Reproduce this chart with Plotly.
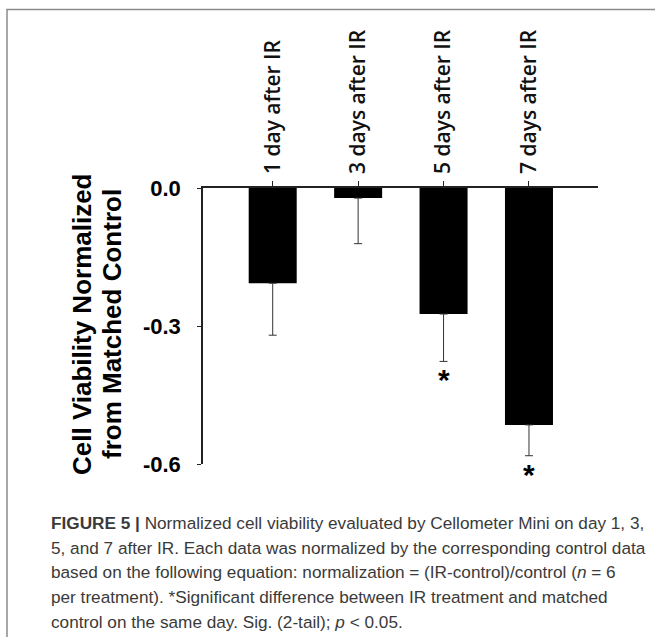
import plotly.graph_objects as go

categories = ["1 day after IR", "3 days after IR", "5 days after IR", "7 days after IR"]
values = [-0.207, -0.022, -0.274, -0.515]
errors = [0.113, 0.099, 0.103, 0.067]
significant = [False, False, True, True]
ytick_vals = [0.0, -0.3, -0.6]
ytick_text = ["0.0", "-0.3", "-0.6"]
ytitle_lines = ["Cell Viability Normalized", "from Matched Control"]
caption_lines = [
    "<b>FIGURE 5 |</b> Normalized cell viability evaluated by Cellometer Mini on day 1, 3,",
    "5, and 7 after IR. Each data was normalized by the corresponding control data",
    "based on the following equation: normalization = (IR-control)/control (<i>n</i> = 6",
    "per treatment). *Significant difference between IR treatment and matched",
    "control on the same day. Sig. (2-tail); <i>p</i> < 0.05.",
]

W, H = 655, 637
ML, MR, MT, MB = 203, 57, 188, 173
PW, PH = W - ML - MR, H - MT - MB


def px_x(px):
    return (px - ML) / PW


def px_y(py):
    return (H - MB - py) / PH


fig = go.Figure()
fig.add_trace(go.Bar(
    x=list(range(len(categories))),
    y=values,
    width=0.562,
    marker=dict(color="#000000", line=dict(width=0)),
    error_y=dict(type="data", symmetric=False, array=[0] * len(errors),
                 arrayminus=errors, color="#333333", thickness=1, width=4),
    showlegend=False,
    hoverinfo="skip",
))

annotations = []
for i, (v, e, s) in enumerate(zip(values, errors, significant)):
    if s:
        annotations.append(dict(
            x=i, y=v - e, xref="x", yref="y", text="<b>*</b>", showarrow=False,
            yanchor="top", yshift=0,
            font=dict(family="Liberation Sans, Arial, sans-serif", size=30, color="#000"),
        ))

for cx, line in zip([82, 112], ytitle_lines):
    annotations.append(dict(
        x=px_x(cx), y=px_y(324), xref="paper", yref="paper", text="<b>" + line + "</b>",
        showarrow=False, textangle=-90, xanchor="center", yanchor="middle",
        font=dict(family="Liberation Sans, Arial, sans-serif", size=26, color="#000"),
    ))

for k, line in enumerate(caption_lines):
    annotations.append(dict(
        x=px_x(49), y=px_y(523 + k * 24.7), xref="paper", yref="paper", text=line,
        showarrow=False, xanchor="left", yanchor="middle", align="left",
        font=dict(family="Liberation Sans, Arial, sans-serif", size=17.2, color="#3a3a3a"),
    ))

fig.update_layout(
    width=W, height=H,
    margin=dict(l=ML, r=MR, t=MT, b=MB, pad=0),
    plot_bgcolor="white", paper_bgcolor="white",
    annotations=annotations,
    shapes=[dict(type="rect", xref="paper", yref="paper",
                 x0=px_x(7), y0=px_y(700), x1=px_x(720), y1=px_y(9.5),
                 line=dict(color="#8a8a8a", width=1.5), layer="below")],
    xaxis=dict(
        side="top", range=[-0.816, 3.808], tickmode="array",
        tickvals=list(range(len(categories))), ticktext=categories,
        tickangle=-90, ticks="outside", ticklen=5, tickcolor="#222",
        showline=True, linecolor="#222", linewidth=1.5, showgrid=False, zeroline=False,
        tickfont=dict(family="Open Sans, sans-serif", size=21, color="#111", weight=600),
        ticklabelstandoff=3, fixedrange=True,
    ),
    yaxis=dict(
        range=[-0.6, 0], tickmode="array", tickvals=ytick_vals, ticktext=ytick_text,
        ticks="outside", ticklen=4, tickcolor="#222",
        showline=True, linecolor="#222", linewidth=1.5, showgrid=False, zeroline=False,
        tickfont=dict(family="Liberation Sans, Arial, sans-serif", size=22, color="#000", weight="bold"),
        ticklabelstandoff=12, fixedrange=True,
    ),
)

fig.write_html("out.html", config={"displayModeBar": False},
               post_script="document.body.style.margin='0';document.body.style.overflow='hidden';")
